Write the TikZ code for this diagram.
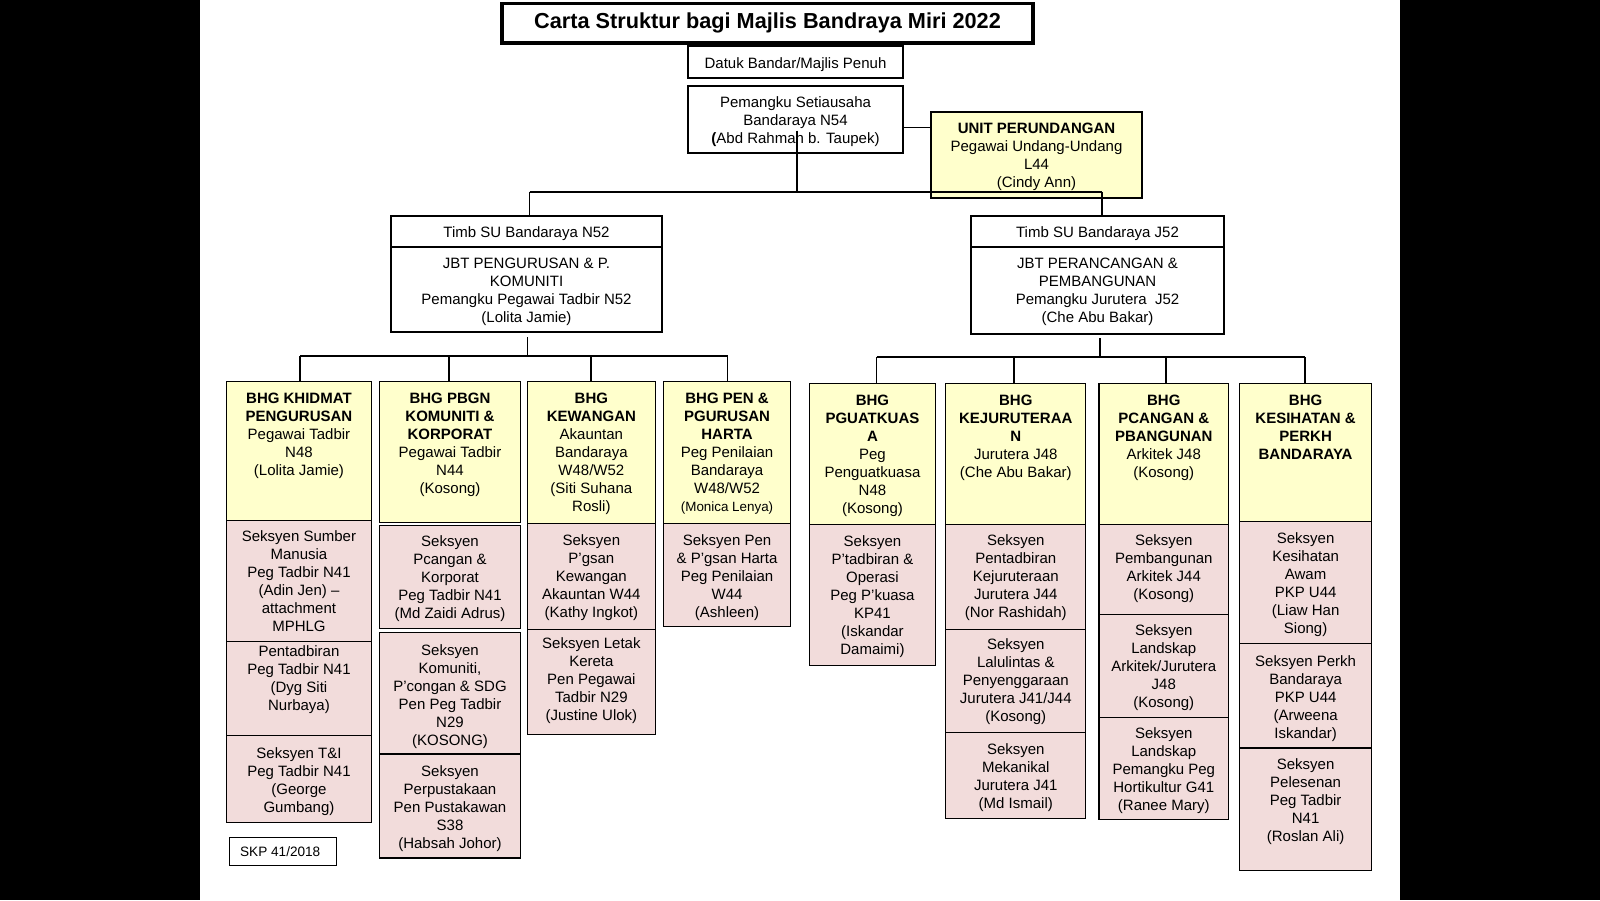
\documentclass[tikz,border=0pt]{standalone}
\usepackage{fontspec}
\setmainfont{Liberation Sans}
\definecolor{ylw}{HTML}{FFFFCC}
\definecolor{pnk}{HTML}{F2DCDB}
\tikzset{
  boxy/.style={draw=black,line width=1.1pt,inner sep=0pt,outer sep=0pt,font=\fontsize{15}{18}\selectfont},
  wbox/.style={boxy,fill=white},
  ybox/.style={boxy,fill=ylw},
  pbox/.style={boxy,fill=pnk},
  bus/.style={line width=2.4pt},
  conn/.style={line width=1.1pt}
}
\newcommand\bx[8]{%
  \pgfmathsetmacro\bw{#4-#2}\pgfmathsetmacro\bh{#5-#3}\pgfmathsetmacro\bp{#7-11.6}%
  \node[#6,anchor=north west] (#1) at (#2,#3)
    {\parbox[c][\bh pt][t]{\bw pt}{\centering\vspace*{\bp pt}\strut #8}};}
\begin{document}
\begin{tikzpicture}[x=1pt,y=-1pt]
\useasboundingbox (0,0) rectangle (1600,900);
\fill[black] (0,0) rectangle (1600,900);
\fill[white] (200,0) rectangle (1400,900);
% title
\node[draw,line width=3.5pt,minimum width=531pt,minimum height=39.5pt,inner sep=0pt,
  font=\fontsize{21.7}{24}\selectfont\bfseries] (title) at (767.5,23.2)
  {\raisebox{-2pt}{Carta Struktur bagi Majlis Bandraya Miri 2022}};
% top level
\bx{datuk}{688}{46}{903}{78}{wbox}{21}{Datuk Bandar/Majlis Penuh}
\bx{pem}{688}{86}{903}{153}{wbox}{20}{Pemangku Setiausaha\\Bandaraya N54\\\textbf{(}Abd Rahman b. Taupek)}
\bx{unit}{931}{112}{1142}{198}{ybox}{20.6}{\textbf{UNIT PERUNDANGAN}\\Pegawai Undang-Undang\\L44\\(Cindy Ann)}
\coordinate (pu) at (0,127.6);
\draw[conn] (pem.east |- pu) -- (unit.west |- pu);
% second level
\bx{n52a}{391}{216}{662}{247}{wbox}{20.6}{Timb SU Bandaraya N52}
\bx{n52b}{391}{247}{662}{332}{wbox}{20}{JBT PENGURUSAN \& P.\\KOMUNITI\\Pemangku Pegawai Tadbir N52\\(Lolita Jamie)}
\bx{j52a}{971}{216}{1224}{247}{wbox}{20.6}{Timb SU Bandaraya J52}
\bx{j52b}{971}{247}{1224}{334}{wbox}{20}{JBT PERANCANGAN \&\\PEMBANGUNAN\\Pemangku Jurutera~~J52\\(Che Abu Bakar)}
\coordinate (pstem) at (797,130.6);
\coordinate (tl) at (529.6,191.8);
\coordinate (tr) at (1102,191.8);
\draw[conn] (pstem) -- (pstem |- tl);
\draw[bus] (tl) -- (tr);
\draw[conn] (tl) -- (tl |- n52a.north);
\draw[conn] (tr) -- (tr |- j52a.north);
% column 1
\bx{c1y}{226.5}{381.6}{371.4}{520.4}{ybox}{20.4}{\textbf{BHG KHIDMAT\\PENGURUSAN}\\Pegawai Tadbir\\N48\\(Lolita Jamie)}
\bx{c1a}{226.5}{520.4}{371.4}{641.8}{pbox}{20.3}{Seksyen Sumber\\Manusia\\Peg Tadbir N41\\(Adin Jen) –\\attachment\\MPHLG}
\bx{c1b}{226.5}{641.8}{371.4}{735.7}{pbox}{13.2}{Pentadbiran\\Peg Tadbir N41\\(Dyg Siti\\Nurbaya)}
\bx{c1c}{226.5}{735.7}{371.4}{822.4}{pbox}{21.3}{Seksyen T\&I\\Peg Tadbir N41\\(George\\Gumbang)}
% column 2
\bx{c2y}{379.6}{381.6}{520.4}{522.4}{ybox}{20.4}{\textbf{BHG PBGN\\KOMUNITI \&\\KORPORAT}\\Pegawai Tadbir\\N44\\(Kosong)}
\bx{c2a}{379.6}{525.5}{520.4}{628.6}{pbox}{20.3}{Seksyen\\Pcangan \&\\Korporat\\Peg Tadbir N41\\(Md Zaidi Adrus)}
\bx{c2b}{379.6}{632.7}{520.4}{754}{pbox}{21.3}{Seksyen\\Komuniti,\\P’congan \& SDG\\Pen Peg Tadbir\\N29\\(KOSONG)}
\bx{c2c}{379.6}{754}{520.4}{858}{pbox}{21.4}{Seksyen\\Perpustakaan\\Pen Pustakawan\\S38\\(Habsah Johor)}
% column 3
\bx{c3y}{527.6}{381.6}{655.1}{523.5}{ybox}{20.4}{\textbf{BHG\\KEWANGAN}\\Akauntan\\Bandaraya\\W48/W52\\(Siti Suhana\\Rosli)}
\bx{c3a}{527.6}{523.5}{655.1}{629.6}{pbox}{21.3}{Seksyen\\P’gsan\\Kewangan\\Akauntan W44\\(Kathy Ingkot)}
\bx{c3b}{527.6}{629.6}{655.1}{734.7}{pbox}{18.3}{Seksyen Letak\\Kereta\\Pen Pegawai\\Tadbir N29\\(Justine Ulok)}
% column 4
\bx{c4y}{663.3}{381.6}{790.8}{523.5}{ybox}{20.4}{\textbf{BHG PEN \&\\PGURUSAN\\HARTA}\\Peg Penilaian\\Bandaraya\\W48/W52\\{\fontsize{13.4}{18}\selectfont(Monica Lenya)}}
\bx{c4a}{663.3}{523.5}{790.8}{626.5}{pbox}{21.3}{Seksyen Pen\\\& P’gsan Harta\\Peg Penilaian\\W44\\(Ashleen)}
% column 5
\bx{c5y}{809.2}{383.7}{935.7}{524.5}{ybox}{20.3}{\textbf{BHG\\PGUATKUAS\\A}\\Peg\\Penguatkuasa\\N48\\(Kosong)}
\bx{c5a}{809.2}{524.5}{935.7}{665.3}{pbox}{21.3}{Seksyen\\P’tadbiran \&\\Operasi\\Peg P’kuasa\\KP41\\(Iskandar\\Damaimi)}
% column 6
\bx{c6y}{945.9}{383.7}{1085.7}{524.5}{ybox}{20.3}{\textbf{BHG\\KEJURUTERAA\\N}\\Jurutera J48\\(Che Abu Bakar)}
\bx{c6a}{945.9}{524.5}{1085.7}{629.6}{pbox}{20.3}{Seksyen\\Pentadbiran\\Kejuruteraan\\Jurutera J44\\(Nor Rashidah)}
\bx{c6b}{945.9}{629.6}{1085.7}{732.7}{pbox}{19.3}{Seksyen\\Lalulintas \&\\Penyenggaraan\\Jurutera J41/J44\\(Kosong)}
\bx{c6c}{945.9}{732.7}{1085.7}{818.4}{pbox}{20.3}{Seksyen\\Mekanikal\\Jurutera J41\\(Md Ismail)}
% column 7
\bx{c7y}{1099}{383.7}{1228.6}{524.5}{ybox}{20.3}{\textbf{BHG\\PCANGAN \&\\PBANGUNAN}\\Arkitek J48\\(Kosong)}
\bx{c7a}{1099}{524.5}{1228.6}{614.3}{pbox}{20.3}{Seksyen\\Pembangunan\\Arkitek J44\\(Kosong)}
\bx{c7b}{1099}{614.3}{1228.6}{717.3}{pbox}{20.3}{Seksyen\\Landskap\\Arkitek/Jurutera\\J48\\(Kosong)}
\bx{c7c}{1099}{717.3}{1228.6}{819.4}{pbox}{20.4}{Seksyen\\Landskap\\Pemangku Peg\\Hortikultur G41\\(Ranee Mary)}
% column 8
\bx{c8y}{1239.8}{383.7}{1371.4}{521.4}{ybox}{20.3}{\textbf{BHG\\KESIHATAN \&\\PERKH\\BANDARAYA}}
\bx{c8a}{1239.8}{521.4}{1371.4}{643.9}{pbox}{21.4}{Seksyen\\Kesihatan\\Awam\\PKP U44\\(Liaw Han\\Siong)}
\bx{c8b}{1239.8}{643.9}{1371.4}{748}{pbox}{21.3}{Seksyen Perkh\\Bandaraya\\PKP U44\\(Arweena\\Iskandar)}
\bx{c8c}{1239.8}{748}{1371.4}{870.4}{pbox}{20.3}{Seksyen\\Pelesenan\\Peg Tadbir\\N41\\(Roslan Ali)}
% left bus
\coordinate (ls) at (527.6,337);
\coordinate (l1) at (300,356);
\coordinate (l2) at (449,356);
\coordinate (l3) at (591,356);
\coordinate (l4) at (727.5,356);
\draw[conn] (ls) -- (ls |- l1);
\draw[bus] (l1) -- (l4);
\draw[conn] (l1) -- (l1 |- c1y.north);
\draw[conn] (l2) -- (l2 |- c2y.north);
\draw[conn] (l3) -- (l3 |- c3y.north);
\draw[conn] (l4) -- (l4 |- c4y.north);
% right bus
\coordinate (rs) at (1100,338);
\coordinate (r1) at (876.5,357);
\coordinate (r2) at (1014,357);
\coordinate (r3) at (1166,357);
\coordinate (r4) at (1305,357);
\draw[conn] (rs) -- (rs |- r1);
\draw[bus] (r1) -- (r4);
\draw[conn] (r1) -- (r1 |- c5y.north);
\draw[conn] (r2) -- (r2 |- c6y.north);
\draw[conn] (r3) -- (r3 |- c7y.north);
\draw[conn] (r4) -- (r4 |- c8y.north);
% footnote box
\node[draw,line width=1.1pt,anchor=north west,inner sep=0pt,minimum height=28.6pt,
  font=\fontsize{13.6}{16}\selectfont] (skp) at (228.6,836.7)
  {\parbox{107pt}{\hspace*{11pt}SKP 41/2018}};
\end{tikzpicture}
\end{document}
